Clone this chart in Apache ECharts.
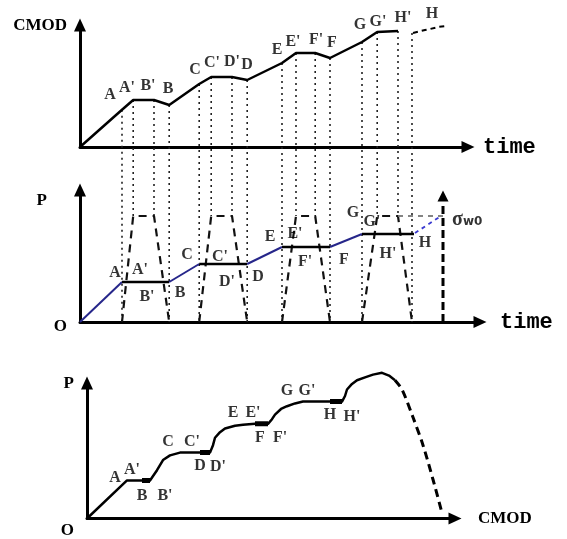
<!DOCTYPE html>
<html><head><meta charset="utf-8">
<script src="https://cdn.jsdelivr.net/npm/echarts@6/dist/echarts.min.js"></script>
<style>html,body{margin:0;padding:0;background:#fff}#c{width:567px;height:539px}</style>
</head><body><div id="c"></div>
<script>
// ---------------- data ----------------
const markNames = ["A","A'","B'","B","C","C'","D'","D","E","E'","F'","F","G","G'","H'","H"];
const markTimes = [10.5,13.3,18.5,22.3,29.8,32.8,38,41.8,50.5,54,58.8,62.5,70.5,74.3,79.5,83];
const markCmod  = [9.3,11.75,11.75,10.5,15.75,17.5,17.5,16.75,21,23.5,23.5,22.25,26.25,28.75,29,28.5];

// panel 1: CMOD vs time
const cmodTime  = [0,10.5,13.3,18.5,22.3,29.8,32.8,38,41.8,50.5,54,58.8,62.5,70.5,74.3,79.5];
const cmodValue = [0,9.3,11.75,11.75,10.5,15.75,17.5,17.5,16.75,21,23.5,23.5,22.25,26.25,28.75,29];
const cmodTailTime  = [83.25,86.25,87.5,89.5,91.75];
const cmodTailValue = [28.5,29.25,29.5,30,30.25];

// panel 2: P vs time
const loadTime  = [0,10.5,22.3,29.8,41.8,50.5,62.5,70.5,83.5];
const loadValue = [0,10,10,14.5,14.5,18.75,18.75,22,22];
const loadTailTime  = [83.75,90.25];
const loadTailValue = [22.25,26.5];
const pulseTop = 26.5;
const sigmaTime = 90.75, sigmaTop = 31.5;
const sigmaLevelTime = [79.5,90.75];

// panel 3: P vs CMOD
const pcCmod = [0,10,13.75,15.75,17.5,19,20.75,23.25,28.25,30.75,31.5,32,33.25,34.5,37,39,42,45.25,46.25,47,48.5,50,52,54,60.75,63.75,64.5,65,66.25,67.5,69.5,71.5,73.75,75.5,77];
const pcLoad = [0,10.25,10.25,10.25,13,15.75,17,17.75,17.75,17.75,19.75,21.75,23.25,24.25,25,25.25,25.5,25.5,26.75,28,29.5,30.25,31,31.5,31.5,31.5,33,34.75,36.25,37.25,38,38.75,39.25,38.5,37.25];
const pcTailCmod = [77,78.75,81.5,84,86.5,88.75];
const pcTailLoad = [37.25,34.75,27.25,19.75,10.5,1.5];
const unloadStart = [13.75,28.25,42,60.75];
const unloadEnd   = [15.75,30.75,45.25,63.75];
const unloadLoad  = [10.25,17.75,25.5,31.5];

// label anchors
const lab1T = [7.5,11.75,17,22,28.75,33,38,41.75,49.25,53.25,59,63,70,74.5,80.75,88];
const lab1V = [13,14.75,15.25,14.5,19.25,21,21.25,20.5,24.25,26.25,26.75,26,30.5,31.25,32.25,33.25];
const lab2T = [8.75,15,16.75,25,26.75,35,36.75,44.5,47.5,53.75,56.25,66,68.25,73,77,86.25];
const lab2V = [12.25,13,6.25,7.25,16.75,16.25,10,11.25,21.25,22,15,15.5,27.25,25,17,19.75];
const lab3C = [7,11.25,19.5,13.75,20.25,26.25,32.75,28.25,36.5,41.5,48.25,43.25,50,55,66.25,60.75];
const lab3P = [11,13,6,6,20.75,20.75,14,14.25,28.5,28.5,21.75,21.75,34.25,34.25,27.5,28];

// ---------------- chart ----------------
const zip = (a,b) => a.map((v,i)=>[v,b[i]]);
const serif = 'Liberation Serif';
const chart = echarts.init(document.getElementById('c'), null, {renderer:'canvas'});

function axis(gridIndex, min, max, name, nameOpts) {
  return Object.assign({
    gridIndex, type:'value', min, max,
    axisLine:{show:true, onZero:false, symbol:['none','triangle'], symbolSize:[12,13],
      lineStyle:{color:'#000', width:3}},
    axisTick:{show:false}, axisLabel:{show:false}, splitLine:{show:false},
    name
  }, nameOpts);
}
const nameSerif = (pad) => ({fontFamily:serif, fontWeight:'bold', fontSize:17, color:'#000', align:'right', verticalAlign:'middle', padding:pad});
const nameMono = (pad) => ({fontFamily:'Liberation Mono', fontWeight:'bold', fontSize:22, color:'#000', verticalAlign:'middle', padding:pad});

const grids = [
  {left:80, top:25, width:388, height:122},
  {left:80, top:190, width:400, height:132},
  {left:87, top:383, width:368, height:146}
];

const xAxes = [
  axis(0,0,97,'time',{nameLocation:'end', nameGap:15, nameTextStyle:nameMono([5,0,0,0])}),
  axis(1,0,100,'time',{nameLocation:'end', nameGap:20, nameTextStyle:nameMono([9,0,0,0])}),
  axis(2,0,92,'CMOD',{nameLocation:'end', nameGap:23, nameTextStyle:Object.assign(nameSerif([6,0,0,0]),{align:'left'})})
];
const yAxes = [
  axis(0,0,30.5,'CMOD',{nameLocation:'end', nameGap:-1, nameTextStyle:nameSerif([0,13,0,0])}),
  axis(1,0,33,'P',{nameLocation:'end', nameGap:-11, nameTextStyle:nameSerif([0,33,0,0])}),
  axis(2,0,36.5,'P',{nameLocation:'end', nameGap:-1, nameTextStyle:nameSerif([0,13,0,0])})
];
// origin "O" labels via extra y axes (no line)
[1,2].forEach(g=>{
  yAxes.push({gridIndex:g, type:'value', min:0, max: g===1?33:36.5, axisLine:{show:false}, axisTick:{show:false},
    axisLabel:{show:false}, splitLine:{show:false}, name:'O', nameLocation:'start', nameGap: g===1?5:12,
    nameTextStyle:nameSerif([0,13,0,0])});
});

function line(xi, data, style, extra) {
  return Object.assign({type:'line', xAxisIndex:xi, yAxisIndex:xi, data, symbol:'none', clip:false,
    lineStyle:style, silent:true, animation:false, z:3}, extra||{});
}
function labels(xi, xs, ys, names, extra) {
  return Object.assign({type:'scatter', xAxisIndex:xi, yAxisIndex:xi, symbolSize:0, clip:false, silent:true, animation:false,
    data: names.map((n,i)=>({name:n, value:[xs[i],ys[i]]})),
    label:{show:true, position:'inside', formatter:'{b}', fontFamily:serif, fontWeight:'bold', fontSize:16, color:'#000'}, z:5}, extra||{});
}

const series = [];
// panel 1
series.push(line(0, zip(cmodTime,cmodValue), {color:'#000', width:2.5}));
series.push(line(0, zip(cmodTailTime,cmodTailValue), {color:'#000', width:2, type:[5,4]}));
series.push(labels(0, lab1T, lab1V, markNames));
// panel 2
for (let i=0;i<loadTime.length-1;i++) {
  const rising = i%2===0;
  series.push(line(1, [[loadTime[i],loadValue[i]],[loadTime[i+1],loadValue[i+1]]],
    {color: rising ? '#26268a' : '#000', width: rising?2:2.5}));
}
series.push(line(1, zip(loadTailTime,loadTailValue), {color:'#3a3ad0', width:1.8, type:[4,4]}));
for (let k=0;k<4;k++) {
  const t = markTimes.slice(4*k,4*k+4);
  series.push(line(1, [[t[0],0],[t[1],pulseTop],[t[2],pulseTop],[t[3],0]], {color:'#111', width:2.2, type:[8,6]}, {z:2}));
}
series.push(line(1, sigmaLevelTime.map(t=>[t,pulseTop]), {color:'#777', width:1.8, type:[5,5]}, {z:2}));
series.push(line(1, [[sigmaTime,0],[sigmaTime,sigmaTop-1.5]], {color:'#000', width:3, type:[8,4]}));
series.push(line(1, [[sigmaTime,sigmaTop]], {color:'#000'}, {symbol:'triangle', symbolSize:[11,11], itemStyle:{color:'#000'}}));
series.push(labels(1, lab2T, lab2V, markNames));
series.push({type:'scatter', xAxisIndex:1, yAxisIndex:1, symbolSize:0, clip:false, silent:true, animation:false,
  data:[{name:'σw0', value:[93,25.5]}],
  label:{show:true, position:'right', distance:0, formatter:'{s|σ}{w|w0}',
    rich:{s:{fontFamily:serif, fontSize:20, fontWeight:'bold', color:'#000'},
          w:{fontFamily:'DejaVu Sans', fontSize:12, fontWeight:'bold', color:'#000', padding:[4,0,0,0]}}}});
// panel 3
series.push(line(2, zip(pcCmod,pcLoad), {color:'#000', width:2.5, join:'round'}));
series.push(line(2, zip(pcTailCmod,pcTailLoad), {color:'#000', width:3, type:[8,5]}, {smooth:0.3}));
for (let k=0;k<4;k++) {
  series.push(line(2, [[unloadStart[k],unloadLoad[k]],[unloadEnd[k],unloadLoad[k]]], {color:'#000', width:5}, {z:4}));
}
series.push(labels(2, lab3C, lab3P, markNames));

chart.setOption({animation:false, backgroundColor:'#fff', grid:grids, xAxis:xAxes, yAxis:yAxes, series});

// dotted guide lines from the CMOD curve (panel 1) down into panel 2
const guides = markTimes.map((t,i)=>{
  const px = chart.convertToPixel({gridIndex:0}, [t, markCmod[i]]);
  const top = chart.convertFromPixel({gridIndex:1}, px)[1];
  const bottom = markNames[i].includes("'") ? pulseTop : 0;
  return line(1, [[t,top],[t,bottom]], {color:'#222', width:1.6, type:[2,4]}, {z:1});
});
chart.setOption({series: series.concat(guides)});
</script></body></html>
